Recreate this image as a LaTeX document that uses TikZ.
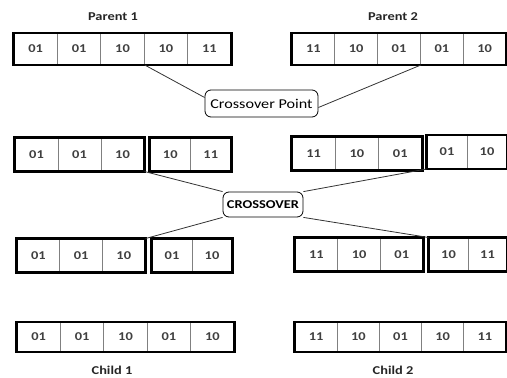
\documentclass[tikz,border=0pt]{standalone}
\usepackage{fontspec}
\setmainfont{Carlito}[FakeStretch=1.2]
\usepackage{tikz}
\usetikzlibrary{positioning}

\tikzset{
 cell/.style={draw=gray, line width=1pt, inner sep=0pt, text=black!75,
   font=\fontsize{12}{14}\selectfont\bfseries},
 outer/.style={draw=black, line width=2.6pt},
 title/.style={font=\fontsize{12}{14}\selectfont\bfseries, text=black!85},
 callout/.style={draw=black, rounded corners=6pt, line width=0.8pt, inner sep=0pt},
 link/.style={draw=black!80, line width=0.8pt}
}

\begin{document}
\begin{tikzpicture}[x=1pt, y=-1pt]
 \useasboundingbox (0,0) rectangle (507,378);

 % parents
 \foreach \lab [count=\i] in {01,01,10,10,11}
   \node[cell, minimum width=43.4pt, minimum height=31pt] (pa\i) at (14+43.4*\i-21.7,49) {\lab};
 \foreach \lab [count=\i] in {11,10,01,01,10}
   \node[cell, minimum width=42.8pt, minimum height=31pt] (pb\i) at (292+42.8*\i-21.4,49) {\lab};
 \draw[outer] (pa1.north west) rectangle (pa5.south east);
 \draw[outer] (pb1.north west) rectangle (pb5.south east);
 \node[title] (t1) at (113,17) {Parent 1};
 \node[title] (t2) at (393,17) {Parent 2};

 % crossover point
 \node[callout, minimum width=113pt, minimum height=27pt,
   font=\fontsize{13.5}{15}\selectfont] (cp) at (261.5,103.5) {Crossover Point};
 \draw[link] (pa3.south east) -- ([yshift=6pt]cp.west);
 \draw[link] (pb3.south east) -- ([yshift=-4pt]cp.east);

 % split parents
 \foreach \lab [count=\i] in {01,01,10}
   \node[cell, minimum width=43pt, minimum height=33pt] (sa\i) at (15+43*\i-21.5,154.5) {\lab};
 \foreach \lab [count=\i] in {10,11}
   \node[cell, minimum width=40.5pt, minimum height=33pt] (sb\i) at (150+40.5*\i-20.25,154.5) {\lab};
 \foreach \lab [count=\i] in {11,10,01}
   \node[cell, minimum width=43.3pt, minimum height=33pt] (sc\i) at (292+43.3*\i-21.65,153.5) {\lab};
 \foreach \lab [count=\i] in {01,10}
   \node[cell, minimum width=40pt, minimum height=33pt] (sd\i) at (427+40*\i-20,152) {\lab};
 \draw[outer] (sa1.north west) rectangle (sa3.south east);
 \draw[outer] (sb1.north west) rectangle (sb2.south east);
 \draw[outer] (sc1.north west) rectangle (sc3.south east);
 \draw[outer] (sd1.north west) rectangle (sd2.south east);

 % crossover
 \node[callout, minimum width=80pt, minimum height=25pt,
   font=\fontsize{12}{14}\selectfont\bfseries] (cx) at (263,204.5) {CROSSOVER};

 % swapped tails
 \foreach \lab [count=\i] in {01,01,10}
   \node[cell, minimum width=42.7pt, minimum height=33pt] (ra\i) at (17+42.7*\i-21.35,255.5) {\lab};
 \foreach \lab [count=\i] in {01,10}
   \node[cell, minimum width=40pt, minimum height=33pt] (rb\i) at (152+40*\i-20,255.5) {\lab};
 \foreach \lab [count=\i] in {11,10,01}
   \node[cell, minimum width=42.7pt, minimum height=33pt] (rc\i) at (295+42.7*\i-21.35,254.5) {\lab};
 \foreach \lab [count=\i] in {10,11}
   \node[cell, minimum width=39pt, minimum height=33pt] (rd\i) at (429+39*\i-19.5,254.5) {\lab};
 \draw[outer] (ra1.north west) rectangle (ra3.south east);
 \draw[outer] (rb1.north west) rectangle (rb2.south east);
 \draw[outer] (rc1.north west) rectangle (rc3.south east);
 \draw[outer] (rd1.north west) rectangle (rd2.south east);

 \draw[link] (sa3.south east) -- (cx.north west);
 \draw[link] (cx.south west) -- (ra3.north east);
 \draw[link] (cx.north east) -- (sd1.south west);
 \draw[link] (cx.south east) -- (rd1.north west);

 % children
 \foreach \lab [count=\i] in {01,01,10,01,10}
   \node[cell, minimum width=43.4pt, minimum height=29pt] (ca\i) at (17+43.4*\i-21.7,337) {\lab};
 \foreach \lab [count=\i] in {11,10,01,10,11}
   \node[cell, minimum width=42.2pt, minimum height=29pt] (cb\i) at (295+42.2*\i-21.1,337) {\lab};
 \draw[outer] (ca1.north west) rectangle (ca5.south east);
 \draw[outer] (cb1.north west) rectangle (cb5.south east);
 \node[title] (t3) at (112,370) {Child 1};
 \node[title] (t4) at (393,370) {Child 2};

\end{tikzpicture}
\end{document}
